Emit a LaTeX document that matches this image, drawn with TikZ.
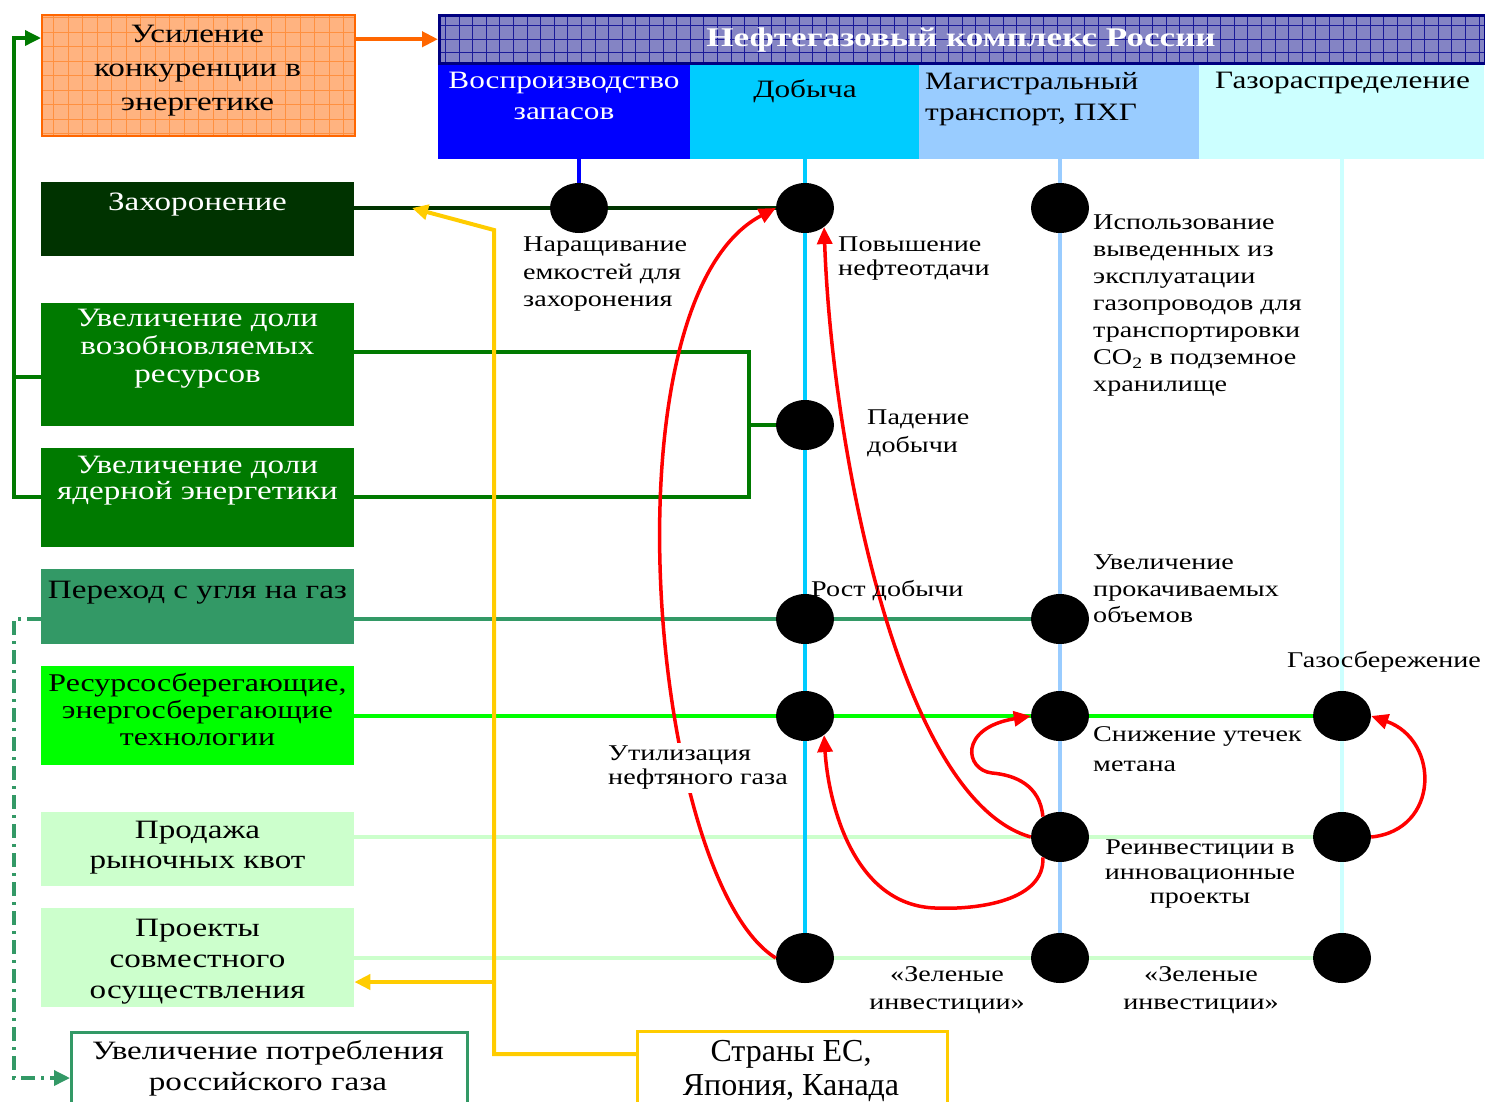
\documentclass[tikz,border=0pt]{standalone}
\usepackage{fontspec}
\setmainfont{Liberation Serif}
\newfontfamily\wideserif[FakeStretch=1.25]{Liberation Serif}
\newfontfamily\headserif[FakeStretch=1.3]{Liberation Serif}
\usepackage{tikz}
\usetikzlibrary{arrows.meta,shapes.geometric}
\definecolor{OrangeLine}{HTML}{FF6600}
\definecolor{OrangeFill}{HTML}{FFB380}
\definecolor{OrangeGrid}{HTML}{FF9040}
\definecolor{NavyLine}{HTML}{000080}
\definecolor{TitleFill}{HTML}{8484C4}
\definecolor{TitleGrid}{HTML}{1A1A99}
\definecolor{ReserveBlue}{HTML}{0000FF}
\definecolor{ProdCyan}{HTML}{00CCFF}
\definecolor{PipeBlue}{HTML}{99CCFF}
\definecolor{DistCyan}{HTML}{CCFFFF}
\definecolor{BurialGreen}{HTML}{003300}
\definecolor{ShareGreen}{HTML}{007A00}
\definecolor{CoalGreen}{HTML}{339966}
\definecolor{SaveGreen}{HTML}{00FF00}
\definecolor{QuotaGreen}{HTML}{CCFFCC}
\definecolor{LinkYellow}{HTML}{FFCC00}
\definecolor{ArcRed}{HTML}{FF0000}
\newcommand{\sideFont}{\wideserif\fontsize{26.5}{34}\selectfont}
\newcommand{\colFont}{\wideserif\fontsize{25}{31}\selectfont}
\newcommand{\noteFont}{\wideserif\fontsize{22.5}{27}\selectfont}
\newcommand{\headFont}{\headserif\bfseries\fontsize{27}{30}\selectfont}
\newcommand{\countryFont}{\fontsize{32}{34}\selectfont}

\begin{document}
\begin{tikzpicture}[x=1pt,y=-1pt,
  side/.style={rectangle,inner sep=0pt,minimum width=313pt,anchor=north west},
  sidetext/.style={font=\sideFont,align=center,inner sep=0pt,anchor=north},
  column/.style={rectangle,inner sep=0pt,minimum height=97pt,anchor=north west},
  coltext/.style={font=\colFont,align=left,inner sep=0pt,anchor=north west},
  dot/.style={ellipse,fill=black,inner sep=0pt,minimum width=58pt,minimum height=50pt},
  note/.style={font=\noteFont,align=left,inner sep=0pt,anchor=north west},
  link/.style={line width=4pt},
  flow/.style={line width=4pt,-{Triangle[length=16pt,width=15pt]}},
  redarc/.style={ArcRed,line width=3.5pt,-{Triangle[length=17pt,width=15pt]}}
]
\useasboundingbox (0,0) rectangle (1485,1101);

% left column of factors
\node[side,minimum height=121pt,fill=OrangeFill,draw=OrangeLine,line width=2pt,
  path picture={\draw[OrangeGrid,line width=0.8pt,step=14.5pt] (path picture bounding box.south west) grid (path picture bounding box.north east);}] (usil) at (41,14) {};
\node[side,minimum height=74pt,fill=BurialGreen] (zah) at (41,182) {};
\node[side,minimum height=123pt,fill=ShareGreen] (vozob) at (41,303) {};
\node[side,minimum height=99pt,fill=ShareGreen] (yader) at (41,448) {};
\node[side,minimum height=75pt,fill=CoalGreen] (perehod) at (41,569) {};
\node[side,minimum height=99pt,fill=SaveGreen] (resurs) at (41,666) {};
\node[side,minimum height=74pt,fill=QuotaGreen] (prod) at (41,812) {};
\node[side,minimum height=99pt,fill=QuotaGreen] (proekt) at (41,908) {};
\node[side,minimum width=396pt,minimum height=100pt,fill=white,draw=CoalGreen,line width=2.5pt] (potr) at (70,1031) {};
\node[side,minimum width=310pt,minimum height=100pt,fill=white,draw=LinkYellow,line width=3pt] (strany) at (636,1030) {};

\node[sidetext] (usil-t) at (197.5,25) {Усиление\\конкуренции в\\энергетике};
\node[sidetext,text=white] (zah-t) at (197.5,193) {Захоронение};
\node[sidetext,text=white] (vozob-t) at (197.5,309) {Увеличение доли\\[-6pt]возобновляемых\\[-6pt]ресурсов};
\node[sidetext,text=white] (yader-t) at (197.5,456) {Увеличение доли\\[-8pt]ядерной энергетики};
\node[sidetext] (perehod-t) at (197.5,581) {Переход с угля на газ};
\node[sidetext,font=\wideserif\fontsize{25.5}{34}\selectfont] (resurs-t) at (197.5,673) {Ресурсосберегающие,\\[-7pt]энергосберегающие\\[-7pt]технологии};
\node[sidetext] (prod-t) at (197.5,821) {Продажа\\[-4pt]рыночных квот};
\node[sidetext] (proekt-t) at (197.5,919) {Проекты\\[-3pt]совместного\\[-3pt]осуществления};
\node[sidetext] (potr-t) at (268,1040) {Увеличение потребления\\[-3pt]российского газа};
\node[font=\countryFont,align=center,inner sep=0pt,anchor=north] (strany-t) at (791,1040) {Страны ЕС,\\Япония, Канада};

% oil and gas complex
\node[column,minimum width=252pt,fill=ReserveBlue] (colR) at (438,62) {};
\node[column,minimum width=229pt,fill=ProdCyan] (colD) at (690,62) {};
\node[column,minimum width=280pt,fill=PipeBlue] (colM) at (919,62) {};
\node[column,minimum width=285pt,fill=DistCyan] (colG) at (1199,62) {};
\node[rectangle,inner sep=0pt,anchor=north west,minimum width=1046pt,minimum height=48pt,
  fill=TitleFill,draw=NavyLine,line width=2.5pt,
  path picture={\draw[TitleGrid,line width=0.8pt,step=13.6pt] (path picture bounding box.south west) grid (path picture bounding box.north east);}] (title) at (438,14) {};
\node[font=\headFont,text=white,inner sep=0pt,anchor=base] (title-t) at (961,46) {Нефтегазовый комплекс России};
\node[coltext,align=center,anchor=north,text=white] (colR-t) at (564,72) {Воспроизводство\\запасов};
\node[coltext,anchor=north] (colD-t) at (805,79) {Добыча};
\node[coltext] (colM-t) at (925,72) {Магистральный\\транспорт, ПХГ};
\node[coltext] (colG-t) at (1215,72) {Газораспределение};

% nodes of the grid
\node[dot] (dRa) at (579,208) {};
\node[dot] (dDa) at (805,208) {};
\node[dot] (dMa) at (1060,208) {};
\node[dot] (dDb) at (805,425) {};
\node[dot] (dDc) at (805,619) {};
\node[dot] (dMc) at (1060,619) {};
\node[dot] (dDd) at (805,716) {};
\node[dot] (dMd) at (1060,716) {};
\node[dot] (dGd) at (1342,716) {};
\node[dot] (dMe) at (1060,837) {};
\node[dot] (dGe) at (1342,837) {};
\node[dot] (dDf) at (805,958) {};
\node[dot] (dMf) at (1060,958) {};
\node[dot] (dGf) at (1342,958) {};

\coordinate (shareTop) at (749,352);
\coordinate (shareBot) at (749,497);
\coordinate (brTop) at (14,38);
\coordinate (brMid) at (14,377);
\coordinate (brBot) at (14,497);
\coordinate (coalTop) at (14,619);
\coordinate (coalBot) at (14,1078);
\coordinate (ylBot) at (494,1054);
\coordinate (ylBend) at (494,230);
\coordinate (ylFork) at (494,982);
\coordinate (ylEnd) at (412,208);

% horizontal links
\draw[link,BurialGreen] (zah.east |- dRa) -- (dRa) -- (dDa);
\draw[link,ShareGreen,line width=3.5pt] (vozob.east |- shareTop) -- (shareTop) -- (shareBot) -- (yader.east |- shareBot);
\draw[link,ShareGreen,line width=3.5pt] (shareTop |- dDb) -- (dDb);
\draw[flow,ShareGreen,line width=3.5pt] (yader.west |- brBot) -- (brBot) -- (brTop) -- (usil.west |- brTop);
\draw[link,ShareGreen,line width=3.5pt] (vozob.west |- brMid) -- (brMid);
\draw[flow,OrangeLine] (usil.east |- title.west) -- (title.west);
\draw[link,CoalGreen] (perehod.east |- dDc) -- (dDc) -- (dMc);
\draw[flow,CoalGreen,line width=3.5pt,dash pattern=on 14pt off 6pt on 3pt off 6pt] (perehod.west |- coalTop) -- (coalTop) -- (coalBot) -- (potr.west |- coalBot);
\draw[link,SaveGreen] (resurs.east |- dDd) -- (dDd) -- (dMd) -- (dGd);
\draw[link,QuotaGreen] (prod.east |- dMe) -- (dMe) -- (dGe);
\draw[link,QuotaGreen] (proekt.east |- dDf) -- (dDf) -- (dMf) -- (dGf);
\draw[flow,LinkYellow] (strany.west |- ylBot) -- (ylBot) -- (ylBend) -- (ylEnd);
\draw[flow,LinkYellow] (ylFork) -- (proekt.east |- ylFork);

% vertical links
\draw[link,ReserveBlue] (colR.south -| dRa) -- (dRa);
\draw[link,ProdCyan] (colD.south -| dDa) -- (dDa) -- (dDb) -- (dDc) -- (dDd) -- (dDf);
\draw[link,PipeBlue] (colM.south -| dMa) -- (dMa) -- (dMc) -- (dMd) -- (dMe) -- (dMf);
\draw[link,DistCyan] (colG.south -| dGd) -- (dGd) -- (dGe) -- (dGf);

% feedback arcs
\draw[redarc] (dDf.west) .. controls (650,880) and (600,300) .. (dDa.west);
\draw[redarc] (dMe.west) .. controls (900,800) and (832,450) .. (dDa.-45);
\draw[redarc] (dMe.-130) .. controls (1045,900) and (980,910) .. (935,908) .. controls (852,905) and (828,800) .. (dDd.-45);
\draw[redarc] (dMe.130) .. controls (1040,785) and (1015,775) .. (992,773) .. controls (965,770) and (958,728) .. (dMd.west);
\draw[redarc] (dGe.east) .. controls (1440,830) and (1440,740) .. (dGd.east);

% notes
\node[note,font=\wideserif\fontsize{22.5}{27.5}\selectfont] (nar) at (523,237) {Наращивание\\емкостей для\\захоронения};
\node[note,font=\wideserif\fontsize{22.5}{24}\selectfont] (pov) at (838,237) {Повышение\\нефтеотдачи};
\node[note] (isp) at (1093,215) {Использование\\выведенных из\\эксплуатации\\газопроводов для\\транспортировки\\CO\textsubscript{2} в подземное\\хранилище};
\node[note,font=\wideserif\fontsize{22.5}{28}\selectfont] (pad) at (867,410) {Падение\\добычи};
\node[note] (rost) at (811,580) {Рост добычи};
\node[note,font=\wideserif\fontsize{22.5}{26.5}\selectfont] (uvel) at (1093,555) {Увеличение\\прокачиваемых\\объемов};
\node[note] (gazo) at (1287,651) {Газосбережение};
\node[note,font=\wideserif\fontsize{22.5}{30}\selectfont] (snizh) at (1093,726) {Снижение утечек\\метана};
\node[note,font=\wideserif\fontsize{22.5}{24}\selectfont,fill=white,inner ysep=3pt,inner xsep=1pt] (util) at (607,743) {Утилизация\\нефтяного газа};
\node[note,align=center,anchor=north,font=\wideserif\fontsize{22.5}{24.5}\selectfont] (rein) at (1200,840) {Реинвестиции в\\инновационные\\проекты};
\node[note,align=center,anchor=north,font=\wideserif\fontsize{22.5}{28}\selectfont] (zel1) at (947,966) {«Зеленые\\инвестиции»};
\node[note,align=center,anchor=north,font=\wideserif\fontsize{22.5}{28}\selectfont] (zel2) at (1201,966) {«Зеленые\\инвестиции»};
\end{tikzpicture}
\end{document}
